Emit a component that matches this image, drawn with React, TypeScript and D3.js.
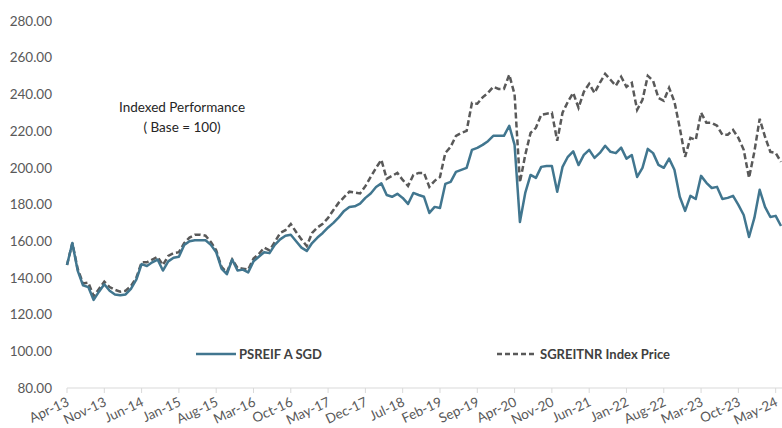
import React, { useEffect, useRef } from 'react';
import * as d3 from 'd3';

// monthly indexed values, Apr-13 .. Jun-24 (base = 100)
const psreif = [
  147, 159, 144, 136, 135, 128, 132.5, 136.5, 133, 131,
  130.5, 131, 134, 139, 147.5, 146.5, 148.5, 150, 144, 149,
  151, 151.5, 158, 160, 160.5, 160.5, 160.5, 158, 154, 145,
  142, 150, 144, 144.5, 143, 149, 151.5, 154, 153.5, 158,
  161, 163, 163.5, 160, 156.5, 154.7, 159, 162, 164.5, 167.5,
  170, 173, 176.5, 178.7, 179, 180.5, 183.6, 186, 189.5, 191.5,
  185.2, 184.2, 185.8, 183.6, 180.3, 186.3, 185.2, 184.2, 175.4, 178.7,
  178.1, 191.2, 192.3, 197.8, 198.9, 200, 209.8, 210.9, 212.5, 214.5,
  217.4, 217.4, 217.4, 222.9, 212.5, 170.5, 186.3, 196.1, 194.5, 200.5,
  201, 201, 186.9, 200.5, 206, 209, 201.5, 207, 209.8, 205.4,
  208.1, 212, 208.7, 208, 211, 205, 207, 195, 200, 210.3,
  208, 201.6, 200, 205, 198.9, 184.2, 176.5, 184.7, 183, 195.6,
  191.8, 189, 189.6, 183, 183.6, 184.7, 179.8, 174.3, 162.3, 172.7,
  188, 178.7, 173.2, 173.8, 168.3,
];

const sgreitnr = [
  147, 159, 145, 137, 137.5, 130, 134, 138, 135, 133.5,
  132.5, 133, 135.5, 140, 148.5, 148.5, 150, 151.5, 147, 152,
  153.5, 154, 159, 162, 163.5, 163.5, 163, 159.6, 155, 146,
  143, 150, 145.5, 145, 144.5, 150.5, 153, 156.5, 155, 159.5,
  164.5, 166, 169.4, 165, 161, 157.4, 164.5, 167.5, 169.5, 172.7,
  177, 181, 184, 187, 186.5, 186, 190, 195, 200, 204.3,
  194, 195.6, 197.2, 193.4, 190.1, 196.1, 197.2, 197.2, 189.6, 192.9,
  195, 208.1, 211.4, 217.4, 219, 220.1, 235.4, 234.9, 238.4, 240.8,
  244.1, 243, 243, 250.7, 240, 192, 207, 219, 221.8, 228.9,
  229.5, 230, 214.7, 230, 236, 240.8, 232.7, 241.4, 245.8, 240.8,
  246.3, 251.2, 248, 244.7, 249.6, 244.1, 246.3, 231.6, 237, 250.1,
  247.4, 238.1, 236.5, 243.6, 236, 221.8, 206, 216.3, 215.2, 230,
  224.5, 224.5, 222.9, 218, 218, 220.7, 216.3, 209.8, 194.5, 208.7,
  226.7, 216.9, 208.7, 208.1, 203.2,
];

// one label every 7 months starting Apr-13
const tickLabels = [
  'Apr-13', 'Nov-13', 'Jun-14', 'Jan-15', 'Aug-15', 'Mar-16', 'Oct-16',
  'May-17', 'Dec-17', 'Jul-18', 'Feb-19', 'Sep-19', 'Apr-20', 'Nov-20',
  'Jun-21', 'Jan-22', 'Aug-22', 'Mar-23', 'Oct-23', 'May-24',
];
const tickStep = 7;
const yTicks = [80, 100, 120, 140, 160, 180, 200, 220, 240, 260, 280];

const seriesNames = ['PSREIF A SGD', 'SGREITNR Index Price'];

const FONT = 'Lato, "Open Sans", sans-serif';

const App = () => {
  const svgRef = useRef<SVGSVGElement>(null);

  useEffect(() => {
    const svg = d3.select(svgRef.current);
    svg.selectAll('*').remove();

    const x = d3.scaleLinear().domain([0, psreif.length - 1]).range([67, 781]);
    const y = d3.scaleLinear().domain([80, 280]).range([388, 21]);

    // y labels (no axis line, no grid)
    svg.append('g')
      .selectAll('text')
      .data(yTicks)
      .enter()
      .append('text')
      .attr('x', 52)
      .attr('y', (d) => y(d))
      .attr('dy', '0.35em')
      .attr('text-anchor', 'end')
      .attr('font-family', FONT)
      .attr('font-size', 13.5)
      .attr('fill', '#595959')
      .text((d) => d.toFixed(2));

    // x axis line + ticks
    const axis = svg.append('g');
    axis.append('line')
      .attr('x1', x(0)).attr('x2', 782)
      .attr('y1', y(80)).attr('y2', y(80))
      .attr('stroke', '#d9d9d9')
      .attr('stroke-width', 1);

    const ticks = axis.selectAll('.tick')
      .data(tickLabels)
      .enter()
      .append('g')
      .attr('class', 'tick')
      .attr('transform', (d, i) => `translate(${x(i * tickStep)},${y(80)})`);

    ticks.append('line')
      .attr('y1', 0).attr('y2', 5)
      .attr('stroke', '#d9d9d9');

    ticks.append('text')
      .attr('transform', 'translate(1,13) rotate(-25)')
      .attr('text-anchor', 'end')
      .attr('dy', '0.35em')
      .attr('font-family', FONT)
      .attr('font-size', 13.5)
      .attr('fill', '#595959')
      .text((d) => d);

    // lines
    const line = d3.line<number>()
      .x((d, i) => x(i))
      .y((d) => y(d));

    svg.append('path')
      .datum(sgreitnr)
      .attr('d', line)
      .attr('fill', 'none')
      .attr('stroke', '#595959')
      .attr('stroke-width', 2.5)
      .attr('stroke-dasharray', '6,3');

    svg.append('path')
      .datum(psreif)
      .attr('d', line)
      .attr('fill', 'none')
      .attr('stroke', '#41768f')
      .attr('stroke-width', 2.5)
      .attr('stroke-linejoin', 'round');

    // annotation
    const note = svg.append('g')
      .attr('font-family', FONT)
      .attr('font-size', 13.5)
      .attr('fill', '#262626')
      .attr('text-anchor', 'middle');
    note.append('text').attr('x', 182).attr('y', 107).attr('dy', '0.35em').text('Indexed Performance');
    note.append('text').attr('x', 182).attr('y', 127).attr('dy', '0.35em').text('( Base = 100)');

    // legend
    const legend = [
      { name: seriesNames[0], x: 196, color: '#41768f', dash: null },
      { name: seriesNames[1], x: 497, color: '#595959', dash: '5,3' },
    ];
    const lg = svg.append('g')
      .selectAll('g')
      .data(legend)
      .enter()
      .append('g')
      .attr('transform', (d) => `translate(${d.x},354)`);
    lg.append('line')
      .attr('x1', 0).attr('x2', 40)
      .attr('stroke', (d) => d.color)
      .attr('stroke-width', 2.5)
      .attr('stroke-dasharray', (d) => d.dash);
    lg.append('text')
      .attr('x', 43)
      .attr('dy', '0.35em')
      .attr('font-family', FONT)
      .attr('font-size', 13)
      .attr('font-weight', 'bold')
      .attr('fill', '#404040')
      .text((d) => d.name);
  }, []);

  return (
    <svg
      ref={svgRef}
      width={782}
      height={428}
      style={{ position: 'absolute', left: 0, top: 0, background: '#fff' }}
    ></svg>
  );
};

export default App;
